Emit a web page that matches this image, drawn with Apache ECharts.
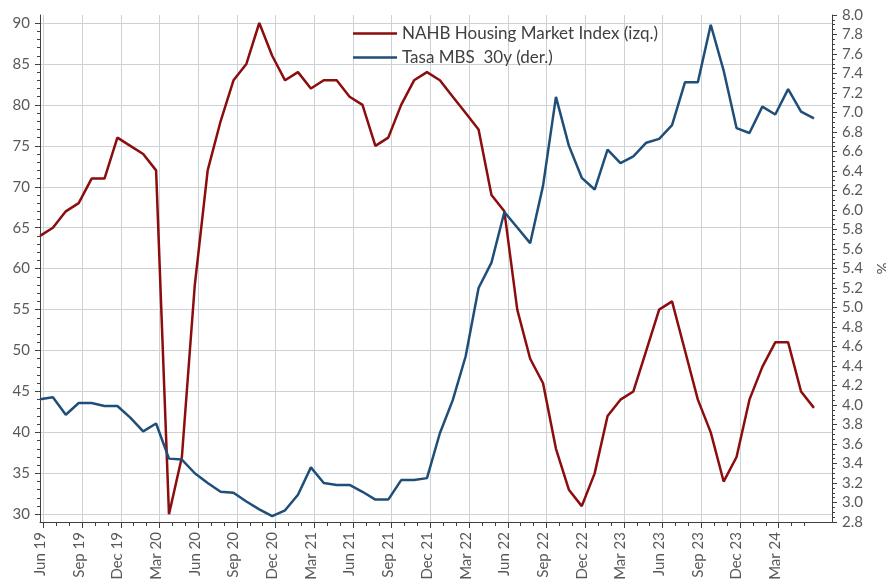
<!DOCTYPE html>
<html>
<head>
<meta charset="utf-8">
<script src="https://cdn.jsdelivr.net/npm/echarts@6/dist/echarts.min.js"></script>
<style>
html, body { margin: 0; padding: 0; background: #fff; }
#main { width: 886px; height: 580px; }
</style>
</head>
<body>
<div id="main"></div>
<script>
// meses de los datos (jun 2019 - jun 2024)
var months = [
  'Jun 19','Jul 19','Aug 19','Sep 19','Oct 19','Nov 19','Dec 19',
  'Jan 20','Feb 20','Mar 20','Apr 20','May 20','Jun 20','Jul 20','Aug 20','Sep 20','Oct 20','Nov 20','Dec 20',
  'Jan 21','Feb 21','Mar 21','Apr 21','May 21','Jun 21','Jul 21','Aug 21','Sep 21','Oct 21','Nov 21','Dec 21',
  'Jan 22','Feb 22','Mar 22','Apr 22','May 22','Jun 22','Jul 22','Aug 22','Sep 22','Oct 22','Nov 22','Dec 22',
  'Jan 23','Feb 23','Mar 23','Apr 23','May 23','Jun 23','Jul 23','Aug 23','Sep 23','Oct 23','Nov 23','Dec 23',
  'Jan 24','Feb 24','Mar 24','Apr 24','May 24','Jun 24'
];
// etiquetas trimestrales del eje x
var tickLabels = [
  'Jun 19','Sep 19','Dec 19','Mar 20','Jun 20','Sep 20','Dec 20','Mar 21','Jun 21','Sep 21',
  'Dec 21','Mar 22','Jun 22','Sep 22','Dec 22','Mar 23','Jun 23','Sep 23','Dec 23','Mar 24'
];
// NAHB Housing Market Index (izq.)
var nahb = [
  64,65,67,68,71,71,76,
  75,74,72,30,37,58,72,78,83,85,90,86,
  83,84,82,83,83,81,80,75,76,80,83,84,
  83,81,79,77,69,67,55,49,46,38,33,31,
  35,42,44,45,50,55,56,50,44,40,34,37,
  44,48,51,51,45,43
];
// Tasa MBS 30y (der.), %
var mbs = [
  4.06,4.08,3.90,4.02,4.02,3.99,3.99,
  3.87,3.73,3.81,3.45,3.44,3.30,3.20,3.11,3.10,3.01,2.93,2.86,
  2.92,3.08,3.36,3.20,3.18,3.18,3.11,3.03,3.03,3.23,3.23,3.25,
  3.71,4.05,4.50,5.20,5.46,5.98,5.82,5.66,6.25,7.16,6.66,6.33,
  6.21,6.62,6.48,6.55,6.69,6.73,6.87,7.31,7.31,7.90,7.43,6.84,
  6.79,7.06,6.98,7.24,7.01,6.94
];

var red = '#8b0d0d';
var blue = '#1f4e79';
var textGray = '#595959';
var axisGray = '#404040';
var gridGray = '#ccd3d8';
var xMax = 61.4;
var lastQuarterTick = (tickLabels.length - 1) * 3;  // 57 = Mar 24
var lastMonthTick = 59;                             // May 24

var myChart = echarts.init(document.getElementById('main'));

var option = {
  animation: false,
  textStyle: { fontFamily: 'Lato' },
  legend: {
    orient: 'vertical',
    left: 353,
    top: 25,
    padding: 0,
    icon: 'rect',
    itemWidth: 44,
    itemHeight: 2.5,
    itemGap: 7,
    textStyle: { fontSize: 17, lineHeight: 14, color: axisGray, fontFamily: 'Lato' },
    data: ['NAHB Housing Market Index (izq.)', 'Tasa MBS  30y (der.)']
  },
  grid: [
    { left: 40, right: 54, top: 23, bottom: 65.7, containLabel: false, outerBoundsMode: 'none' },     // eje izquierdo
    { left: 40, right: 54, top: 15, bottom: 58, containLabel: false, outerBoundsMode: 'none' },       // eje derecho + etiquetas x
    { left: 43.4, right: 107.3, top: 15, bottom: 58, containLabel: false, outerBoundsMode: 'none' },  // rejilla vertical trimestral
    { left: 43.4, right: 81.5, top: 15, bottom: 58, containLabel: false, outerBoundsMode: 'none' }    // marcas mensuales
  ],
  xAxis: [
    { gridIndex: 0, type: 'value', min: 0, max: xMax, show: false },
    {
      gridIndex: 1, type: 'value', min: 0, max: xMax, interval: 3,
      axisLine: { show: true, onZero: false, lineStyle: { color: axisGray, width: 1 } },
      axisTick: { show: false },
      splitLine: { show: false },
      axisLabel: {
        rotate: 90, margin: 10, fontSize: 15, color: textGray,
        formatter: function (v) {
          if (v % 3 !== 0) return '';
          return tickLabels[v / 3] || '';
        }
      }
    },
    {
      gridIndex: 2, type: 'value', min: 0, max: lastQuarterTick, interval: 3,
      axisLine: { show: false, onZero: false },
      axisTick: { show: true, length: 6, lineStyle: { color: axisGray } },
      axisLabel: { show: false },
      splitLine: { show: true, lineStyle: { color: gridGray, width: 1 } }
    },
    {
      gridIndex: 3, type: 'value', min: 0, max: lastMonthTick, interval: 1,
      axisLine: { show: false, onZero: false },
      axisTick: { show: true, length: 4, lineStyle: { color: axisGray } },
      axisLabel: { show: false },
      splitLine: { show: false }
    }
  ],
  yAxis: [
    {
      gridIndex: 0, type: 'value', position: 'left', min: 30, max: 90, interval: 5,
      axisLine: { show: false, onZero: false },
      axisTick: { show: true, length: 5, lineStyle: { color: axisGray } },
      minorTick: { show: true, splitNumber: 5, length: 3, lineStyle: { color: axisGray } },
      axisLabel: { margin: 10, fontSize: 15, color: textGray },
      splitLine: { show: true, lineStyle: { color: gridGray, width: 1 } }
    },
    {
      gridIndex: 1, type: 'value', position: 'left', min: 0, max: 1,
      axisLine: { show: true, onZero: false, lineStyle: { color: axisGray, width: 1 } },
      axisTick: { show: false },
      axisLabel: { show: false },
      splitLine: { show: false }
    },
    {
      gridIndex: 1, type: 'value', position: 'right', min: 2.8, max: 8.0, interval: 0.2,
      name: '%', nameLocation: 'middle', nameGap: 44, nameRotate: 90,
      nameTextStyle: { fontSize: 15, color: textGray },
      axisLine: { show: true, onZero: false, lineStyle: { color: axisGray, width: 1 } },
      axisTick: { show: true, length: 5, lineStyle: { color: axisGray } },
      minorTick: { show: true, splitNumber: 4, length: 3, lineStyle: { color: axisGray } },
      axisLabel: {
        margin: 10, fontSize: 15, color: textGray,
        formatter: function (v) { return v.toFixed(1); }
      },
      splitLine: { show: false }
    },
    { gridIndex: 2, type: 'value', show: false },
    { gridIndex: 3, type: 'value', show: false }
  ],
  series: [
    {
      name: 'NAHB Housing Market Index (izq.)',
      type: 'line',
      xAxisIndex: 0,
      yAxisIndex: 0,
      symbol: 'none',
      data: nahb.map(function (v, i) { return [i, v]; }),
      lineStyle: { color: red, width: 2.5 },
      itemStyle: { color: red }
    },
    {
      name: 'Tasa MBS  30y (der.)',
      type: 'line',
      xAxisIndex: 1,
      yAxisIndex: 2,
      symbol: 'none',
      data: mbs.map(function (v, i) { return [i, v]; }),
      lineStyle: { color: blue, width: 2.5 },
      itemStyle: { color: blue }
    }
  ]
};
myChart.setOption(option);
</script>
</body>
</html>
